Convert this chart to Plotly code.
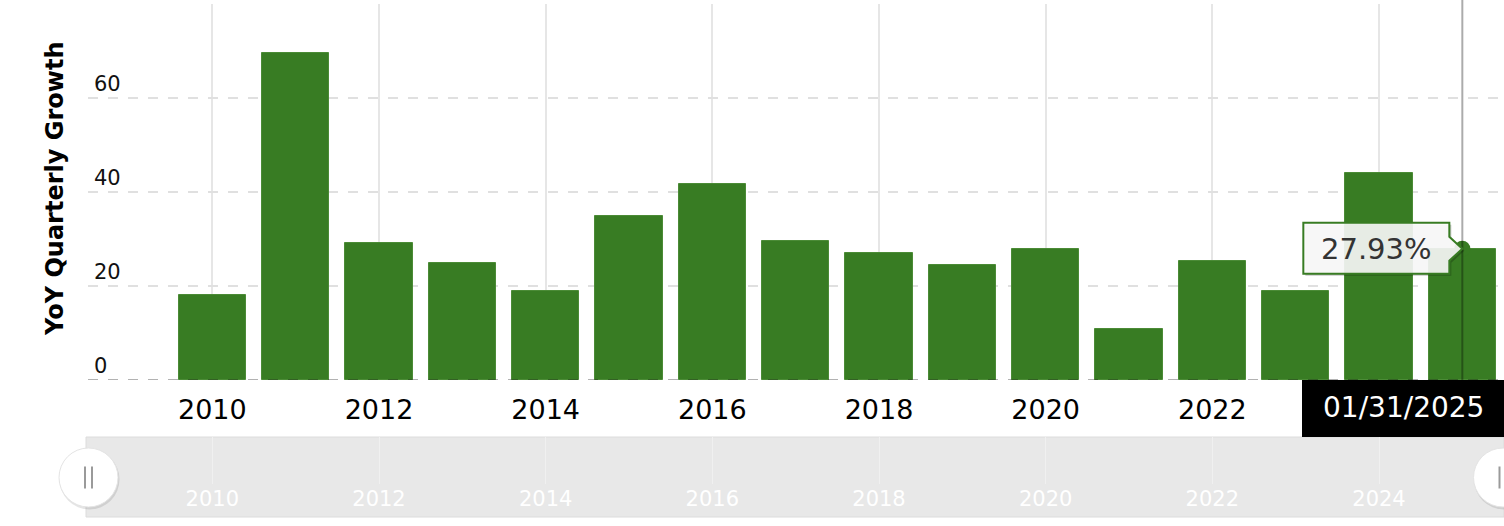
import plotly.graph_objects as go

# ---- data ----
years = [2010, 2011, 2012, 2013, 2014, 2015, 2016, 2017, 2018, 2019, 2020, 2021, 2022, 2023, 2024, 2025]
growth = [18.0, 69.5, 29.1, 24.8, 18.9, 35.0, 41.8, 29.5, 27.0, 24.4, 27.8, 10.8, 25.3, 18.9, 44.0, 27.93]
x_tickvals = [2010, 2012, 2014, 2016, 2018, 2020, 2022, 2024]
x_ticktext_nav = ["2010", "2012", "2014", "2016", "2018", "2020", "2022", "2024"]
# the 2024 label of the main axis is hidden behind the crosshair date label
x_ticktext_main = ["2010", "2012", "2014", "2016", "2018", "2020", "2022", ""]
y_tickvals = [0, 20, 40, 60, 80]
y_ticktext = ["0", "20", "40", "60", ""]
y_title = "YoY Quarterly Growth"
fiscal_end = "01/31"

W, H = 1504, 526
L = 88
PW = W - L


def px(xp):
    return (xp - L) / PW


def py(yp):
    return (H - yp) / H


GREEN = "#387C23"
FONT = "DejaVu Sans"
x_range = [2008.508, 2025.5]

fig = go.Figure()
fig.add_trace(go.Bar(
    x=years, y=growth, width=0.81,
    marker=dict(color=GREEN, line=dict(color="#4B8B36", width=1)),
    xaxis="x", yaxis="y", hoverinfo="skip",
))
fig.add_trace(go.Scatter(
    x=[years[-1]], y=[growth[-1]], mode="markers",
    marker=dict(color=GREEN, size=16), xaxis="x", yaxis="y", hoverinfo="skip",
))
# navigator subplot (its series is not drawn in the reference, so keep it invisible)
fig.add_trace(go.Scatter(
    x=years, y=growth, mode="lines", line=dict(width=0, color="rgba(0,0,0,0)"),
    xaxis="x2", yaxis="y2", hoverinfo="skip",
))

shapes = []
# navigator background
shapes.append(dict(type="rect", xref="paper", yref="paper", x0=px(86), x1=1.0,
                   y0=py(517), y1=py(437), fillcolor="#e8e8e8",
                   line=dict(color="#dcdcdc", width=1), layer="below"))
# zero line (dashed, drawn over the bars)
shapes.append(dict(type="line", xref="paper", yref="y", x0=0, x1=1, y0=0, y1=0,
                   line=dict(color="rgba(0,0,0,0.3)", width=2, dash="10px,10px"), layer="above"))
# crosshair
shapes.append(dict(type="line", xref="x", yref="paper", x0=years[-1], x1=years[-1],
                   y0=py(380), y1=1.0, line=dict(color="rgba(0,0,0,0.33)", width=2), layer="above"))
# tooltip shadow + box (pixel offsets relative to the hovered point)
tip_path = "M -159,26 L -13,26 L -13,12 L 0,0 L -13,-12 L -13,-25 L -159,-25 Z"
shadow_path = "M -157,24 L -11,24 L -11,10 L 2,-2 L -11,-14 L -11,-27 L -157,-27 Z"
shapes.append(dict(type="path", xref="x", yref="y", xsizemode="pixel", ysizemode="pixel",
                   xanchor=years[-1], yanchor=growth[-1], path=shadow_path,
                   fillcolor="rgba(0,0,0,0.22)", line=dict(width=0), layer="above"))
shapes.append(dict(type="path", xref="x", yref="y", xsizemode="pixel", ysizemode="pixel",
                   xanchor=years[-1], yanchor=growth[-1], path=tip_path,
                   fillcolor="rgba(252,252,252,0.9)", line=dict(color=GREEN, width=2), layer="above"))
# date label box
shapes.append(dict(type="rect", xref="paper", yref="paper", x0=px(1302), x1=1.0,
                   y0=py(437), y1=py(380), fillcolor="#000000", line=dict(width=0), layer="above"))
# navigator handles
for cx in [88.5, 1503]:
    shapes.append(dict(type="circle", xref="paper", yref="paper", xsizemode="pixel", ysizemode="pixel",
                       xanchor=px(cx), yanchor=py(477.5), x0=-29, x1=31, y0=-32, y1=28,
                       fillcolor="rgba(0,0,0,0.10)", line=dict(width=0), layer="above"))
    shapes.append(dict(type="circle", xref="paper", yref="paper", xsizemode="pixel", ysizemode="pixel",
                       xanchor=px(cx), yanchor=py(477.5), x0=-29.5, x1=29.5, y0=-29.5, y1=29.5,
                       fillcolor="#ffffff", line=dict(color="#e4e4e4", width=1), layer="above"))
    for d in (-3.5, 3.5):
        shapes.append(dict(type="line", xref="paper", yref="paper", xsizemode="pixel", ysizemode="pixel",
                           xanchor=px(cx), yanchor=py(477.5), x0=d, x1=d, y0=-11, y1=11,
                           line=dict(color="#9a9a9a", width=2), layer="above"))

annotations = [
    dict(text=y_title, xref="paper", yref="paper", x=px(55), y=py(189), textangle=-90,
         showarrow=False, font=dict(family=FONT, size=24, color="#000", weight="bold"),
         xanchor="center", yanchor="middle"),
    dict(text=f"{growth[-1]:.2f}%", xref="x", yref="y", x=years[-1], y=growth[-1],
         xshift=-85.5, yshift=0, showarrow=False, xanchor="center", yanchor="middle",
         font=dict(family=FONT, size=29, color="#333333")),
    dict(text=f"{fiscal_end}/{years[-1]}", xref="paper", yref="paper", x=px(1403), y=py(407),
         showarrow=False, xanchor="center", yanchor="middle",
         font=dict(family=FONT, size=28, color="#ffffff")),
]

fig.update_layout(
    width=W, height=H,
    margin=dict(l=L, r=0, t=0, b=0, pad=0),
    paper_bgcolor="#ffffff", plot_bgcolor="rgba(0,0,0,0)",
    showlegend=False, hovermode=False, bargap=0,
    font=dict(family=FONT),
    xaxis=dict(domain=[0, 1], range=x_range, anchor="y", tickvals=x_tickvals, ticktext=x_ticktext_main,
               showgrid=True, gridcolor="#e6e6e6", gridwidth=2, zeroline=False, showline=False,
               ticks="", ticklabelstandoff=11, tickfont=dict(family=FONT, size=27, color="#000")),
    yaxis=dict(domain=[py(380), py(4)], range=[0, 80], anchor="x", tickvals=y_tickvals, ticktext=y_ticktext,
               showgrid=True, gridcolor="#e0e0e0", gridwidth=2, griddash="10px,10px",
               zeroline=False, showline=False, ticks="", ticklabelposition="inside top",
               ticklabelstandoff=3, tickfont=dict(family=FONT, size=21, color="#111")),
    xaxis2=dict(domain=[0, 1], range=x_range, anchor="y2", tickvals=x_tickvals, ticktext=x_ticktext_nav,
                showgrid=True, gridcolor="#f0f0f0", gridwidth=1, zeroline=False, showline=False,
                ticks="", ticklabelstandoff=0,
                tickfont=dict(family=FONT, size=21, color="#ffffff")),
    yaxis2=dict(domain=[py(484), py(437)], range=[-1000, -999], anchor="x2", showgrid=False,
                showticklabels=False, zeroline=False, showline=False),
    shapes=shapes,
    annotations=annotations,
)

# remove the browser's default 8px body margin so the figure sits at the window's corner
fig.write_html("out.html", post_script="document.body.style.margin='0';",
               config={"displayModeBar": False})
